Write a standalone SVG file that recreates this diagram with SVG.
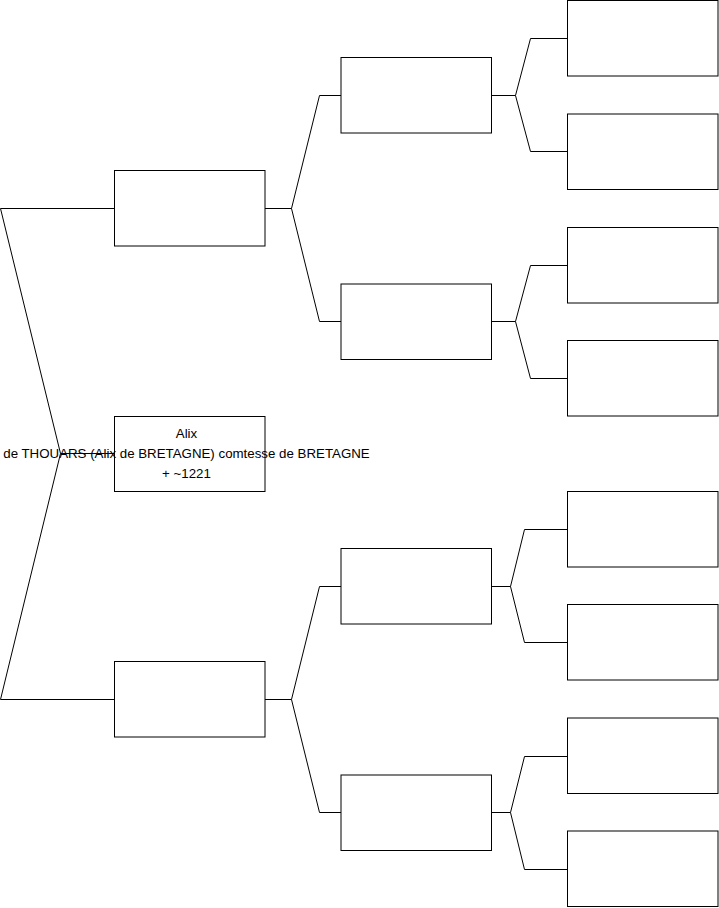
<svg xmlns="http://www.w3.org/2000/svg" width="719" height="908" viewBox="0 0 719 908">
<style>
.box{fill:#fff;stroke:#000;stroke-width:1}
.ln{fill:none;stroke:#000;stroke-width:1}
.t{font-family:"Liberation Sans",Arial,sans-serif;font-size:13.3px;fill:#000;text-anchor:middle}
</style>
<rect width="719" height="908" fill="#fff"/>
<g id="connectors">
<path class="ln" d="M114,208.5 H0.5 L60.5,453.5 L0.5,699.5 H114 M60.5,453.5 H114"/>
<path class="ln" d="M265,208.5 H291.5 L319.5,95.5 H341 M291.5,208.5 L319.5,321.5 H341"/>
<path class="ln" d="M265,699.5 H291.5 L319.5,586.5 H341 M291.5,699.5 L319.5,812.5 H341"/>
<path class="ln" d="M492,95.5 H515.5 L530.5,38.5 H567 M515.5,95.5 L530.5,151.5 H567"/>
<path class="ln" d="M492,321.5 H515.5 L530.5,265.5 H567 M515.5,321.5 L530.5,378.5 H567"/>
<path class="ln" d="M492,586.5 H510.5 L524.5,529.5 H567 M510.5,586.5 L524.5,642.5 H567"/>
<path class="ln" d="M492,812.5 H510.5 L524.5,756.5 H567 M510.5,812.5 L524.5,869.5 H567"/>
</g>
<g id="n1"><rect class="box" x="114.5" y="170.5" width="150.5" height="75.5"/></g>
<g id="n2"><rect class="box" x="114.5" y="416.5" width="150.5" height="75"/>
<text class="t" x="186.5" y="438">Alix</text>
<text class="t" x="186.5" y="458">de THOUARS (Alix de BRETAGNE) comtesse de BRETAGNE</text>
<text class="t" x="186.5" y="478">+ ~1221</text></g>
<g id="n3"><rect class="box" x="114.5" y="661.5" width="150.5" height="75.5"/></g>
<g id="n4"><rect class="box" x="341" y="57.5" width="150.5" height="75.5"/></g>
<g id="n5"><rect class="box" x="341" y="284" width="150.5" height="75.5"/></g>
<g id="n6"><rect class="box" x="341" y="548.5" width="150.5" height="75.5"/></g>
<g id="n7"><rect class="box" x="341" y="775" width="150.5" height="75.5"/></g>
<g id="n8"><rect class="box" x="567.5" y="0.5" width="150.5" height="75.5"/></g>
<g id="n9"><rect class="box" x="567.5" y="114" width="150.5" height="75.5"/></g>
<g id="n10"><rect class="box" x="567.5" y="227.5" width="150.5" height="75.5"/></g>
<g id="n11"><rect class="box" x="567.5" y="340.5" width="150.5" height="75.5"/></g>
<g id="n12"><rect class="box" x="567.5" y="491.5" width="150.5" height="75.5"/></g>
<g id="n13"><rect class="box" x="567.5" y="604.5" width="150.5" height="75.5"/></g>
<g id="n14"><rect class="box" x="567.5" y="718" width="150.5" height="75.5"/></g>
<g id="n15"><rect class="box" x="567.5" y="831" width="150.5" height="75.5"/></g>
</svg>
